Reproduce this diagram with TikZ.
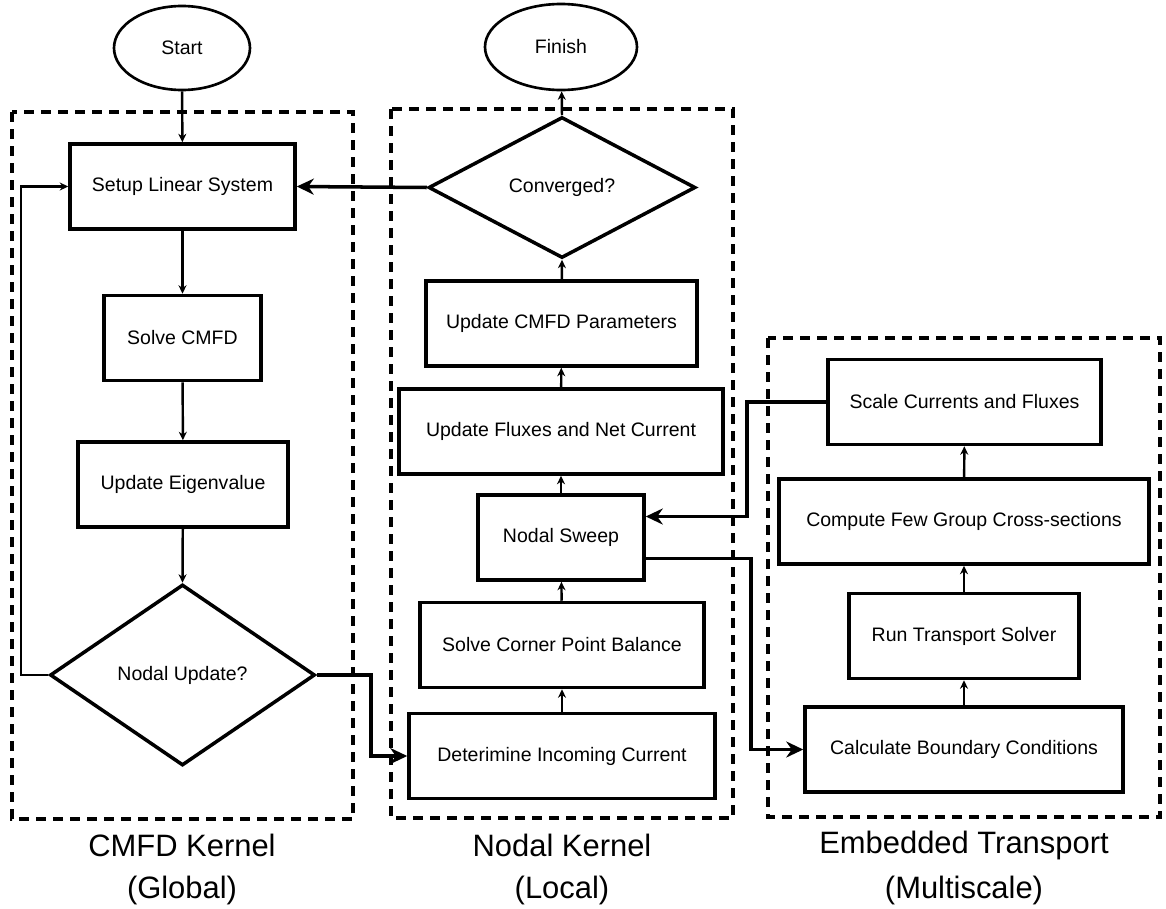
\documentclass[tikz,border=0pt]{standalone}
\usepackage{fontspec}
\setmainfont{Liberation Sans}
\usetikzlibrary{arrows.meta,shapes.geometric,calc}

\tikzset{
  block/.style={draw, rectangle, line width=2pt, minimum height=17mm, inner sep=0pt,
    font=\fontsize{11.1}{13}\selectfont},
  decision/.style={draw, diamond, line width=2pt, inner sep=0pt,
    font=\fontsize{11.1}{13}\selectfont},
  terminal/.style={draw, ellipse, line width=1.5pt, inner sep=0pt,
    font=\fontsize{11.1}{13}\selectfont},
  flow/.style={line width=1.4pt, -{Stealth[length=1.7mm,width=1.6mm]}},
  link/.style={line width=2pt, -{Stealth[length=3.4mm,width=3.2mm,inset=1.1mm]}},
  kernel/.style={line width=2pt, dash pattern=on 2mm off 1.4mm},
  caption/.style={font=\fontsize{17.6}{20}\selectfont}
}

\begin{document}
\begin{tikzpicture}[x=0.2mm,y=-0.2mm]
\useasboundingbox (0,0) rectangle (1166,909);

% kernel frames
\draw [kernel] (12,112) rectangle (353,819);
\draw [kernel] (391,109) rectangle (733,818);
\draw [kernel] (768,338) rectangle (1160,817);

% CMFD kernel
\node [terminal, minimum width=27.2mm, minimum height=16.8mm] (start) at (182,48) {Start};
\node [block, minimum width=45mm] (setup) at (182.5,186.5) {Setup Linear System};
\node [block, minimum width=31.4mm] (solvecmfd) at (182.5,338) {Solve CMFD};
\node [block, minimum width=42mm] (eigen) at (183,484.5) {Update Eigenvalue};
\node [decision, minimum width=53mm, minimum height=36.2mm] (nodalupd) at (182.5,675) {Nodal Update?};

% nodal kernel
\node [terminal, minimum width=30.4mm, minimum height=17.2mm] (finish) at (561,47) {Finish};
\node [decision, minimum width=53.4mm, minimum height=28.2mm] (converged) at (562,187.5) {Converged?};
\node [block, minimum width=54.2mm] (updparams) at (561.5,323.5) {Update CMFD Parameters};
\node [block, minimum width=64.8mm] (updflux) at (561,431.5) {Update Fluxes and Net Current};
\node [block, minimum width=33.2mm] (sweep) at (561,537.5) {Nodal Sweep};
\node [block, minimum width=56.8mm] (corner) at (562,645) {Solve Corner Point Balance};
\node [block, minimum width=61.2mm] (incoming) at (562,756) {Deterimine Incoming Current};

% embedded transport
\node [block, minimum width=54.6mm] (scale) at (964.5,402) {Scale Currents and Fluxes};
\node [block, minimum width=74mm] (xsec) at (964,521.5) {Compute Few Group Cross-sections};
\node [block, minimum width=46mm] (transport) at (964,636) {Run Transport Solver};
\node [block, minimum width=63.6mm] (boundary) at (964,749.5) {Calculate Boundary Conditions};

% captions
\node [caption] (cmfdcap) at (182,845) {CMFD Kernel};
\node [caption] (cmfdsub) at (182,890) {(Global)};
\node [caption] (nodalcap) at (562,845) {Nodal Kernel};
\node [caption] (nodalsub) at (562,890) {(Local)};
\node [caption] (embcap) at (964,845) {Embedded Transport};
\node [caption] (embsub) at (964,890) {(Multiscale)};

% CMFD flow
\draw [flow] (start) -- (setup);
\draw [flow] (setup) -- (solvecmfd);
\draw [flow] (solvecmfd) -- (eigen);
\draw [flow] (eigen) -- (nodalupd.north);
\draw [flow] (nodalupd.west) -- ++(-27,0) |- (setup.west);
\draw [link] (nodalupd.east) -- ++(54,0) |- (incoming.west);

% nodal flow
\draw [flow] (incoming) -- (corner);
\draw [flow] (corner) -- (sweep);
\draw [flow] (sweep) -- (updflux);
\draw [flow] (updflux) -- (updparams);
\draw [flow] (updparams) -- (converged.south);
\draw [flow] (converged.north) -- (finish);
\draw [link] (converged.west) -- (setup.east);

% transport coupling
\coordinate (sweepin) at ($(sweep.east)+(0,-21)$);
\coordinate (sweepout) at ($(sweep.east)+(0,21)$);
\draw [link] (scale.west) -- ++(-79,0) |- (sweepin);
\draw [link] (sweepout) -- ++(105,0) |- (boundary.west);
\draw [flow] (boundary) -- (transport);
\draw [flow] (transport) -- (xsec);
\draw [flow] (xsec) -- (scale);
\end{tikzpicture}
\end{document}
